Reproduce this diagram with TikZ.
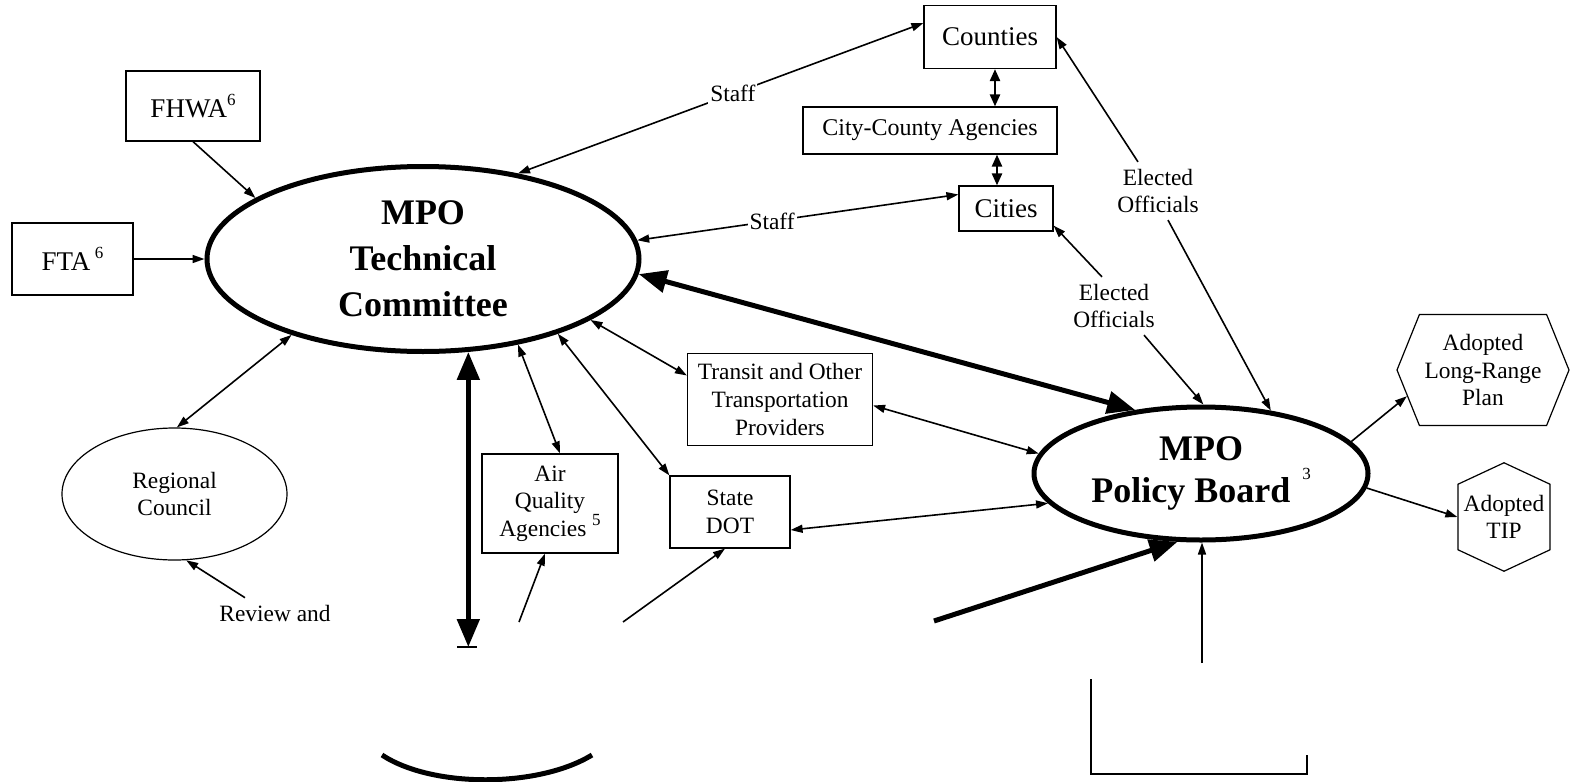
\documentclass[tikz,border=0pt]{standalone}
\usepackage{fontspec}
\setmainfont{Liberation Serif}
\usetikzlibrary{arrows.meta,shapes.geometric,shapes.symbols}

\newcommand{\supnum}[1]{\raisebox{0.45em}{\normalfont\fontsize{8.5}{8.5}\selectfont #1}}

\begin{document}
\begin{tikzpicture}[
    x=0.5pt, y=-0.5pt,
    font=\fontsize{11.7}{13.8}\selectfont,
    box/.style={rectangle, draw, line width=0.6pt, align=center, inner sep=2pt},
    bigbox/.style={box, font=\fontsize{13.5}{15}\selectfont},
    bigell/.style={ellipse, draw, line width=2.5pt, align=center, inner sep=0pt, font=\fontsize{18}{23}\selectfont\bfseries},
    smallell/.style={ellipse, draw, line width=0.6pt, align=center, inner sep=0pt},
    hexa/.style={signal, draw, line width=0.6pt, align=center, inner sep=1pt},
    lbl/.style={fill=white, inner sep=1pt, align=center},
    arrow/.style={-{Triangle[length=6pt,width=4pt]}, line width=0.8pt},
    darrow/.style={{Triangle[length=6pt,width=4pt]}-{Triangle[length=6pt,width=4pt]}, line width=0.8pt},
    medarrow/.style={{Triangle[length=6pt,width=5pt]}-{Triangle[length=6pt,width=5pt]}, line width=1.2pt},
    bigarrow/.style={-{Triangle[length=14pt,width=11pt]}, line width=2.5pt},
    bigdarrow/.style={{Triangle[length=14pt,width=11pt]}-{Triangle[length=14pt,width=11pt]}, line width=2.5pt}
  ]
    \useasboundingbox (0,0) rectangle (1570,782);

    % Committees
    \node[bigell, minimum width=216pt, minimum height=92.5pt] (tech) at (423,259) {MPO\\Technical\\Committee};
    \node[bigell, minimum width=167pt, minimum height=66.5pt, font=\fontsize{18}{21}\selectfont\bfseries] (policy) at (1201,473.5) {MPO\\Policy Board\,\,\raisebox{0.2em}{\supnum{3}}};
    \node[smallell, minimum width=112.5pt, minimum height=66pt] (reg) at (174.5,494) {Regional\\Council};

    % Federal
    \node[bigbox, minimum width=67pt, minimum height=35pt] (fhwa) at (193,106) {FHWA\supnum{6}};
    \node[bigbox, minimum width=60.5pt, minimum height=36pt] (fta) at (72.5,259) {FTA\,\supnum{6}};

    % Local government
    \node[bigbox, minimum width=66pt, minimum height=31.5pt] (counties) at (990,37) {Counties};
    \node[box, minimum width=127pt, minimum height=23.5pt, font=\fontsize{12}{14}\selectfont] (citycounty) at (930,130.5) {City-County Agencies};
    \node[bigbox, minimum width=47pt, minimum height=22.5pt] (cities) at (1006,208.5) {Cities};

    % Other agencies
    \node[box, minimum width=92.5pt, minimum height=46pt] (transit) at (780,399.5) {Transit and Other\\Transportation\\Providers};
    \node[box, minimum width=68pt, minimum height=49.5pt] (air) at (550,503.5) {Air\\Quality\\Agencies \supnum{5}};
    \node[box, minimum width=60pt, minimum height=36pt] (statedot) at (730,512) {State\\DOT};

    % Products
    \node[hexa, signal to=east and west, signal pointer angle=136, minimum width=86pt, minimum height=55.5pt] (lrp) at (1483,370) {Adopted\\Long-Range\\Plan};
    \node[hexa, signal to=north and south, signal pointer angle=130, minimum width=46pt, minimum height=52.5pt] (tip) at (1504,517) {Adopted\\TIP};

    % Labels
    \node[align=center] (eo1) at (1158,191) {Elected\\Officials};
    \node[align=center] (eo2) at (1114,306) {Elected\\Officials};
    \node (review) at (275,613) {Review and};

    % Federal inputs
    \draw[arrow] (fhwa.south) -- (tech.160);
    \draw[arrow] (fta.east) -- (tech.180);

    % Staff links
    \draw[darrow] (tech.42) -- node[lbl, pos=0.53] {Staff} ([yshift=7pt]counties.west);
    \draw[darrow] (tech.5) -- node[lbl, pos=0.42] {Staff} ([yshift=7pt]cities.west);
    \draw[medarrow] ([xshift=2.5pt]counties.south) -- ([xshift=2.5pt]counties.south |- citycounty.north);
    \draw[medarrow] ([xshift=-4.5pt]cities.north) -- ([xshift=-4.5pt]cities.north |- citycounty.south);

    % Elected officials
    \draw[arrow] ([xshift=-10pt]eo1.north) -- (counties.east);
    \draw[arrow] ([xshift=5pt]eo1.south) -- (policy.42);
    \draw[arrow] ([xshift=-6pt]eo2.north) -- ([yshift=3pt]cities.south east);
    \draw[arrow] ([xshift=15pt]eo2.south) -- (policy.88);

    % Committee to board
    \draw[bigdarrow] (tech.-4) -- (policy.136);
    \draw[darrow] (tech.-20) -- ([yshift=12pt]transit.west);
    \draw[darrow] ([yshift=-3pt]transit.east) -- (policy.173);
    \draw[darrow] (tech.-29) -- (statedot.north west);
    \draw[darrow] ([yshift=-9pt]statedot.east) -- (policy.191);
    \draw[darrow] (tech.-42) -- ([xshift=5pt]air.north);
    \draw[darrow] (tech.210) -- (reg.88);
    \draw[arrow] ([xshift=-15pt]review.north) -- (reg.-80);

    % Outputs
    \draw[arrow] (policy.12) -- (lrp.199);
    \draw[arrow] (policy.-5) -- (tip.west);

    % Lower part
    \coordinate (vcut) at (468,647);
    \coordinate (aqcut) at (519,622);
    \coordinate (dotcut) at (623,622);
    \coordinate (thcut) at (934,621);
    \coordinate (pbcut) at (1202,663);
    \draw[bigdarrow] (tech.-64) -- (tech.-64 |- vcut);
    \draw[line width=0.8pt] (457,647) -- (477,647);
    \draw[arrow] (aqcut) -- ([xshift=-2.5pt]air.south);
    \draw[arrow] (dotcut) -- ([xshift=-2.5pt]statedot.south);
    \draw[bigarrow] (thcut) -- (policy.-109);
    \draw[arrow] (pbcut) -- (pbcut |- policy.south);
    \draw[line width=2.5pt] (382,755) .. controls (432,788) and (538,788) .. (592,755);
    \draw[line width=0.6pt] (1091,679) -- (1091,774) -- (1307,774) -- (1307,755);
  \end{tikzpicture}
\end{document}
